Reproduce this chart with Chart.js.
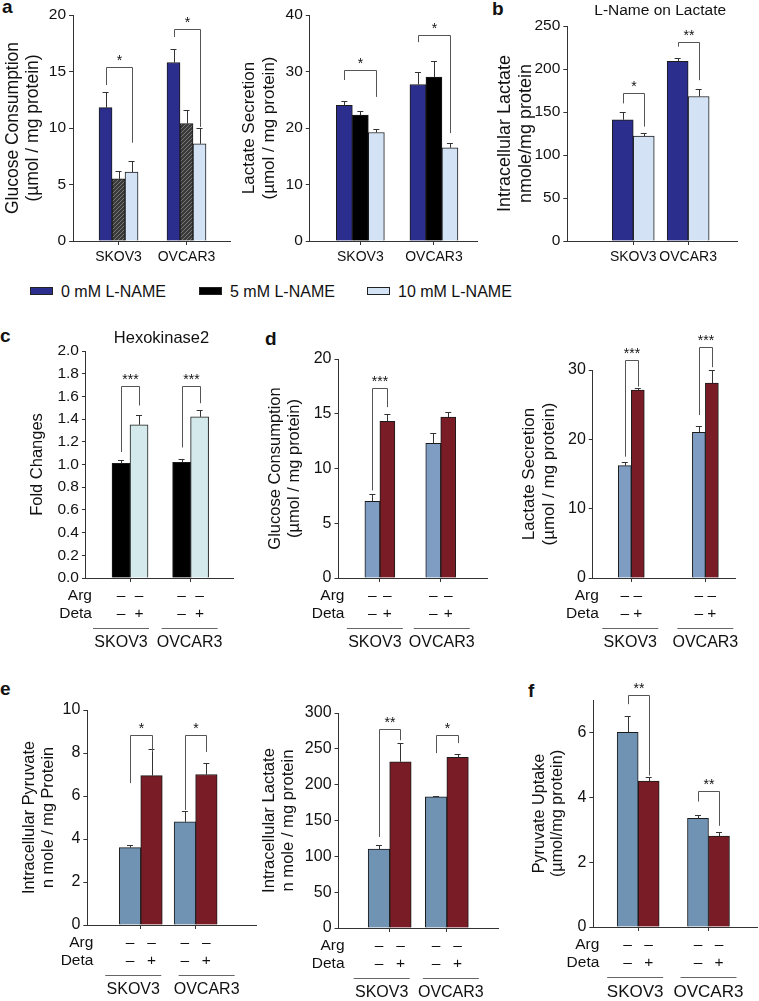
<!DOCTYPE html>
<html><head><meta charset="UTF-8"/>
<title>L-NAME and Deta on glycolysis</title>
<script src="https://cdn.jsdelivr.net/npm/chart.js"></script>
<style>
* { margin: 0; padding: 0; box-sizing: border-box; }
body {
    background: #ffffff;
    width: 759px;
    height: 1001px;
    position: relative;
    overflow: hidden;
    font-family: 'Liberation Sans', Arial, sans-serif;
    color: #111;
}
canvas { position: absolute; }
.tag { position: absolute; font-weight: bold; font-size: 19px; line-height: 19px; }
.key { position: absolute; top: 283px; font-size: 16px; line-height: 18px; white-space: nowrap; }
.key i { display: inline-block; width: 23px; height: 8px; border: 1px solid #222; margin-right: 8px; vertical-align: 2px; }
</style>
</head>
<body>

<div class="tag" style="left:2px;top:-3px">a</div>
<div class="tag" style="left:492px;top:-1px">b</div>
<div class="tag" style="left:0px;top:326px">c</div>
<div class="tag" style="left:265px;top:329px">d</div>
<div class="tag" style="left:0px;top:679px">e</div>
<div class="tag" style="left:528px;top:681px">f</div>

<div class="key" style="left:30px"><i style="background:#2c2e8e"></i>0 mM L-NAME</div>
<div class="key" style="left:199px"><i style="background:#000"></i>5 mM L-NAME</div>
<div class="key" style="left:367px"><i style="background:#d3e3f5"></i>10 mM L-NAME</div>

<script>
const cats = ['SKOV3', 'OVCAR3'];
const argRow = ['–', '–'];
const detaRow = ['–', '+'];

// a: L-NAME, glucose consumption (µmol / mg protein)
const glc0 = [11.8, 15.8], glc0Err = [1.4, 1.2];
const glc5 = [5.5, 10.4], glc5Err = [0.7, 1.2];
const glc10 = [6.1, 8.6], glc10Err = [1.0, 1.4];

// a: L-NAME, lactate secretion (µmol / mg protein)
const lac0 = [24.0, 27.7], lac0Err = [0.8, 2.2];
const lac5 = [22.3, 29.0], lac5Err = [0.7, 2.8];
const lac10 = [19.2, 16.5], lac10Err = [0.6, 0.9];

// b: L-NAME on intracellular lactate (nmole/mg protein)
const iLac0 = [141, 209], iLac0Err = [9, 4];
const iLac10 = [122, 168], iLac10Err = [4, 9];

// c: hexokinase2 fold change
const hkCtrl = [1.01, 1.02], hkCtrlErr = [0.03, 0.03];
const hkDeta = [1.35, 1.42], hkDetaErr = [0.09, 0.06];

// d: Deta, glucose consumption / lactate secretion
const dGlcCtrl = [7.0, 12.3], dGlcCtrlErr = [0.7, 0.9];
const dGlcDeta = [14.3, 14.7], dGlcDetaErr = [0.7, 0.5];
const dLacCtrl = [16.2, 21.0], dLacCtrlErr = [0.5, 0.9];
const dLacDeta = [27.1, 28.1], dLacDetaErr = [0.3, 1.9];

// e: Deta, intracellular pyruvate / lactate
const pyrCtrl = [3.6, 4.8], pyrCtrlErr = [0.1, 0.5];
const pyrDeta = [6.95, 7.0], pyrDetaErr = [1.25, 0.55];
const eLacCtrl = [110, 183], eLacCtrlErr = [6, 1];
const eLacDeta = [232, 238], eLacDetaErr = [26, 5];

// f: Deta, pyruvate uptake
const upCtrl = [6.0, 3.35], upCtrlErr = [0.5, 0.1];
const upDeta = [4.5, 2.8], upDetaErr = [0.13, 0.12];

// significance brackets: group, left/right dataset, bracket top and leg ends (axis units)
const sigA1 = [{g: 0, a: 0, b: 2, top: 15.4, la: 13.8, lb: 8.7, t: '*'}, {g: 1, a: 0, b: 2, top: 18.75, la: 18.05, lb: 10.1, t: '*'}];
const sigA2 = [{g: 0, a: 0, b: 2, top: 30.3, la: 28.5, lb: 25.5, t: '*'}, {g: 1, a: 0, b: 2, top: 36.5, la: 35.2, lb: 19.1, t: '*'}];
const sigB = [{g: 0, a: 0, b: 1, top: 172, la: 160, lb: 133, t: '*'}, {g: 1, a: 0, b: 1, top: 231, la: 226, lb: 187, t: '**'}];
const sigC = [{g: 0, a: 0, b: 1, top: 1.69, la: 1.11, lb: 1.52, t: '***'}, {g: 1, a: 0, b: 1, top: 1.69, la: 1.15, lb: 1.54, t: '***'}];
const sigD1 = [{g: 0, a: 0, b: 1, top: 17.35, la: 8.0, lb: 15.6, t: '***'}];
const sigD2 = [{g: 0, a: 0, b: 1, top: 31.5, la: 17.5, lb: 27.6, t: '***'}, {g: 1, a: 0, b: 1, top: 33.3, la: 23.5, lb: 30.4, t: '***'}];
const sigE1 = [{g: 0, a: 0, b: 1, top: 8.84, la: 6.6, lb: 8.05, t: '*'}, {g: 1, a: 0, b: 1, top: 8.84, la: 5.35, lb: 8.05, t: '*'}];
const sigE2 = [{g: 0, a: 0, b: 1, top: 277, la: 127, lb: 262, t: '**'}, {g: 1, a: 0, b: 1, top: 269, la: 244, lb: 258, t: '*'}];
const sigF = [{g: 0, a: 0, b: 1, top: 7.15, la: 6.87, lb: 4.67, t: '**'}, {g: 1, a: 0, b: 1, top: 4.18, la: 3.87, lb: 3.12, t: '**'}];

const FONT = "'Liberation Sans', Arial, sans-serif";
Chart.defaults.font.family = FONT;
Chart.defaults.color = '#111';

const NAVY = '#2c2e8e', LIGHT = '#d3e3f5', CYAN = '#d4e9ec';
const STEEL = '#7f9dc3', STEEL2 = '#7093b3', WINE = '#7a1c26';

function hatch() {
    const c = document.createElement('canvas');
    c.width = 4; c.height = 4;
    const g = c.getContext('2d');
    g.fillStyle = '#3a3a3a';
    g.fillRect(0, 0, 4, 4);
    g.strokeStyle = '#7a7a7a';
    g.beginPath(); g.moveTo(0, 4); g.lineTo(4, 0); g.stroke();
    return g.createPattern(c, 'repeat');
}

// error bars, brackets, treatment rows, cell-line labels and titles
const extras = {
    id: 'extras',
    afterDatasetsDraw(chart, args, o) {
        const {ctx, chartArea: ca, scales: {x, y}} = chart;
        const zero = y.getPixelForValue(0);
        const px = v => Math.round(v) + 0.5;
        ctx.save();
        ctx.lineWidth = 1;
        ctx.strokeStyle = '#333';
        chart.data.datasets.forEach((ds, di) => {
            chart.getDatasetMeta(di).data.forEach((bar, i) => {
                const top = y.getPixelForValue(ds.data[i].y + ds.err[i]);
                ctx.beginPath();
                ctx.moveTo(px(bar.x), bar.y);
                ctx.lineTo(px(bar.x), px(top));
                ctx.moveTo(bar.x - 3, px(top));
                ctx.lineTo(bar.x + 3, px(top));
                ctx.stroke();
            });
        });

        ctx.strokeStyle = '#555';
        ctx.fillStyle = '#111';
        ctx.textAlign = 'center';
        ctx.textBaseline = 'alphabetic';
        ctx.font = '14px ' + FONT;
        (o.sig || []).forEach(s => {
            const xa = px(chart.getDatasetMeta(s.a).data[s.g].x);
            const xb = px(chart.getDatasetMeta(s.b).data[s.g].x);
            const yt = px(y.getPixelForValue(s.top));
            ctx.beginPath();
            ctx.moveTo(xa, y.getPixelForValue(s.la));
            ctx.lineTo(xa, yt);
            ctx.lineTo(xb, yt);
            ctx.lineTo(xb, y.getPixelForValue(s.lb));
            ctx.stroke();
            ctx.fillText(s.t, (xa + xb) / 2, yt - 3);
        });

        if (o.rows) {
            ctx.font = '15.5px ' + FONT;
            ctx.textBaseline = 'middle';
            ctx.textAlign = 'right';
            ctx.fillText('Arg', ca.left + 6, zero + 18);
            ctx.fillText('Deta', ca.left + 6, zero + 36);
            ctx.textAlign = 'center';
            chart.data.datasets.forEach((ds, di) => {
                chart.getDatasetMeta(di).data.forEach(bar => {
                    ctx.fillText(argRow[di], bar.x, zero + 18);
                    ctx.fillText(detaRow[di], bar.x, zero + 36);
                });
            });
            ctx.strokeStyle = '#666';
            ctx.font = o.catSize + 'px ' + FONT;
            cats.forEach((c, i) => {
                const cx = x.getPixelForValue(i + 1) + o.labelDx[i];
                ctx.beginPath();
                ctx.moveTo(cx - 28, px(zero + 50));
                ctx.lineTo(cx + 28, px(zero + 50));
                ctx.stroke();
                ctx.fillText(c, cx, zero + 65);
            });
        }

        if (o.title) {
            ctx.font = o.titleFont + 'px ' + FONT;
            ctx.textAlign = 'center';
            ctx.textBaseline = 'middle';
            ctx.fillText(o.title, (ca.left + ca.right) / 2 + (o.titleDx || 0), ca.top - o.titleDy);
        }
        ctx.restore();
    }
};

const PT = 60, XH = 80, PR = 12;

function panel(p) {
    const lh = p.titleSize * 1.15;
    const left = p.titleX - lh / 2;
    const top = p.topY - PT;
    const w = Math.round(p.rightX - left + PR);
    const h = Math.round(p.zeroY - top + XH);
    const cv = document.createElement('canvas');
    cv.width = w; cv.height = h;
    cv.style.left = left + 'px';
    cv.style.top = top + 'px';
    cv.style.width = w + 'px';
    cv.style.height = h + 'px';
    document.body.appendChild(cv);
    const yW = p.axisX - left;

    new Chart(cv, {
        type: 'bar',
        data: {
            datasets: p.series.map(s => ({
                data: s.values.map((v, i) => ({x: i + 1, y: v})),
                err: s.err,
                backgroundColor: s.color,
                borderColor: '#1b1b1b',
                borderWidth: 1,
                barThickness: p.bar
            }))
        },
        options: {
            responsive: false,
            animation: false,
            layout: {padding: {top: PT, right: PR, left: 0, bottom: 0}},
            plugins: {
                legend: {display: false},
                tooltip: {enabled: false},
                extras: {
                    sig: p.sig, rows: p.rows, labelDx: p.labelDx, catSize: p.catSize,
                    title: p.title, titleDy: p.titleDy, titleDx: p.titleDx, titleFont: p.titleFont
                }
            },
            scales: {
                x: {
                    type: 'linear',
                    min: p.xMin,
                    max: p.xMax,
                    offset: false,
                    afterBuildTicks: s => { s.ticks = cats.map((c, i) => ({value: i + 1})); },
                    afterFit: s => { s.height = XH; s.paddingLeft = 0; s.paddingRight = 0; },
                    grid: {offset: false, drawOnChartArea: false, drawTicks: true, tickLength: 4, color: '#333'},
                    border: {display: true, color: '#333', width: 1},
                    ticks: {
                        display: !p.rows,
                        callback: v => cats[v - 1],
                        padding: 4,
                        autoSkip: false,
                        maxRotation: 0,
                        font: {size: p.catSize},
                        color: '#111'
                    }
                },
                y: {
                    min: 0,
                    max: p.yMax,
                    afterFit: s => { s.width = yW; },
                    afterBuildTicks: s => {
                        if (p.yLabelMax !== undefined) s.ticks = s.ticks.filter(t => t.value <= p.yLabelMax);
                    },
                    grid: {drawOnChartArea: false, drawTicks: true, tickLength: 4, color: '#333'},
                    border: {display: true, color: '#333', width: 1},
                    ticks: {
                        stepSize: p.yStep,
                        padding: 3,
                        font: {size: p.tickSize},
                        color: '#111',
                        callback: v => p.decimals ? v.toFixed(p.decimals) : v
                    },
                    title: {
                        display: true,
                        text: p.yTitle,
                        padding: 0,
                        font: {size: p.titleSize, lineHeight: 1.15},
                        color: '#111'
                    }
                }
            }
        },
        plugins: [extras]
    });
}

const HATCH = hatch();

panel({
    axisX: 73, topY: 15, rightX: 230, zeroY: 241, titleX: 13,
    yMax: 20, yStep: 5, xMin: 0.331, xMax: 2.64, bar: 13,
    tickSize: 15.5, catSize: 14, titleSize: 17.5,
    yTitle: ['Glucose Consumption', '(µmol / mg protein)'],
    series: [
        {values: glc0, err: glc0Err, color: NAVY},
        {values: glc5, err: glc5Err, color: HATCH},
        {values: glc10, err: glc10Err, color: LIGHT}
    ],
    sig: sigA1
});

panel({
    axisX: 310, topY: 15, rightX: 477, zeroY: 241, titleX: 250,
    yMax: 40, yStep: 10, xMin: 0.313, xMax: 2.585, bar: 16,
    tickSize: 15.5, catSize: 14, titleSize: 17,
    yTitle: ['Lactate Secretion', '(µmol / mg protein)'],
    series: [
        {values: lac0, err: lac0Err, color: NAVY},
        {values: lac5, err: lac5Err, color: '#000'},
        {values: lac10, err: lac10Err, color: LIGHT}
    ],
    sig: sigA2
});

panel({
    axisX: 567, topY: 26, rightX: 737, zeroY: 241, titleX: 505,
    yMax: 250, yStep: 50, xMin: -0.2, xMax: 2.89, bar: 21,
    tickSize: 15.5, catSize: 14, titleSize: 18,
    yTitle: ['Intracellular Lactate', 'nmole/mg protein'],
    series: [
        {values: iLac0, err: iLac0Err, color: NAVY},
        {values: iLac10, err: iLac10Err, color: LIGHT}
    ],
    sig: sigB, title: 'L-Name on Lactate', titleDy: 15, titleDx: 8, titleFont: 15.5
});

panel({
    axisX: 86, topY: 351, rightX: 233, zeroY: 578, titleX: 37.5,
    yMax: 2.0, yStep: 0.2, decimals: 1, xMin: 0.273, xMax: 2.70, bar: 18,
    tickSize: 15.5, catSize: 16, titleSize: 16.5,
    yTitle: 'Fold Changes',
    series: [
        {values: hkCtrl, err: hkCtrlErr, color: '#000'},
        {values: hkDeta, err: hkDetaErr, color: CYAN}
    ],
    sig: sigC, rows: true, labelDx: [-9, -1],
    title: 'Hexokinase2', titleDy: 13, titleDx: 2, titleFont: 16.5
});

panel({
    axisX: 338, topY: 359, rightX: 487, zeroY: 578, titleX: 275,
    yMax: 20, yStep: 5, xMin: 0.32, xMax: 2.76, bar: 15,
    tickSize: 16, catSize: 16, titleSize: 16.5,
    yTitle: ['Glucose Consumption', '(µmol / mg protein)'],
    series: [
        {values: dGlcCtrl, err: dGlcCtrlErr, color: STEEL},
        {values: dGlcDeta, err: dGlcDetaErr, color: WINE}
    ],
    sig: sigD1, rows: true, labelDx: [-5, 1]
});

panel({
    axisX: 593, topY: 370, rightX: 735, zeroY: 578, titleX: 530,
    yMax: 30, yStep: 10, xMin: 0.48, xMax: 2.40, bar: 13,
    tickSize: 16, catSize: 16, titleSize: 17,
    yTitle: ['Lactate Secretion', '(µmol / mg protein)'],
    series: [
        {values: dLacCtrl, err: dLacCtrlErr, color: STEEL},
        {values: dLacDeta, err: dLacDetaErr, color: WINE}
    ],
    sig: sigD2, rows: true, labelDx: [-1, 0]
});

panel({
    axisX: 87, topY: 710, rightX: 256, zeroY: 925, titleX: 29,
    yMax: 10, yStep: 2, xMin: 0.027, xMax: 3.1, bar: 21.5,
    tickSize: 16, catSize: 16, titleSize: 16.3,
    yTitle: ['Intracellular Pyruvate', 'n mole / mg Protein'],
    series: [
        {values: pyrCtrl, err: pyrCtrlErr, color: STEEL2},
        {values: pyrDeta, err: pyrDetaErr, color: WINE}
    ],
    sig: sigE1, rows: true, labelDx: [-7.5, 11]
});

panel({
    axisX: 339, topY: 713, rightX: 498, zeroY: 928, titleX: 270,
    yMax: 300, yStep: 50, xMin: 0.105, xMax: 2.895, bar: 21.5,
    tickSize: 16, catSize: 16, titleSize: 16.6,
    yTitle: ['Intracellular Lactate', 'n mole / mg protein'],
    series: [
        {values: eLacCtrl, err: eLacCtrlErr, color: STEEL2},
        {values: eLacDeta, err: eLacDetaErr, color: WINE}
    ],
    sig: sigE2, rows: true, labelDx: [-8, 4]
});

panel({
    axisX: 593, topY: 700, rightX: 757, zeroY: 927, titleX: 539,
    yMax: 7, yStep: 2, yLabelMax: 6, xMin: 0.362, xMax: 2.69, bar: 21,
    tickSize: 16, catSize: 17, titleSize: 16.2,
    yTitle: ['Pyruvate Uptake', '(µmol/mg protein)'],
    series: [
        {values: upCtrl, err: upCtrlErr, color: STEEL2},
        {values: upDeta, err: upDetaErr, color: WINE}
    ],
    sig: sigF, rows: true, labelDx: [-3, 0]
});
</script>
</body></html>
